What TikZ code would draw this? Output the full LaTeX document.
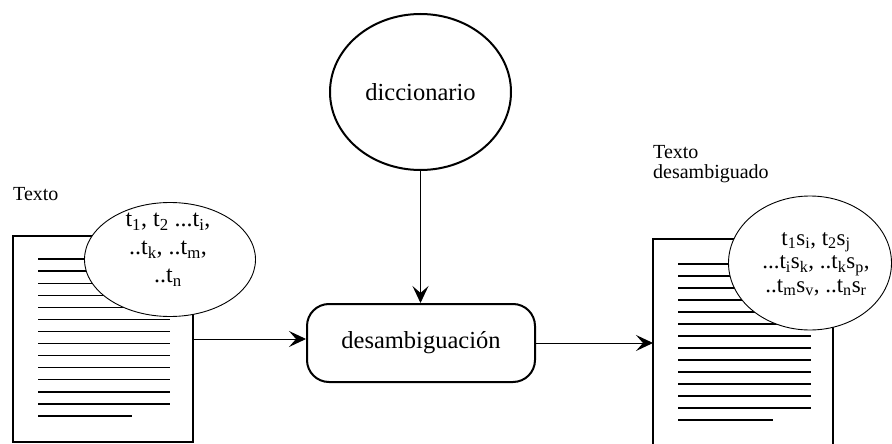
\documentclass[tikz,border=0pt]{standalone}
\usepackage{fontspec}
\setmainfont{Liberation Serif}
\usetikzlibrary{shapes.geometric,arrows.meta}

\tikzset{
  docbox/.style={draw, line width=2.4pt, rectangle, inner sep=0pt, outer sep=0pt},
  docline/.style={line width=1.3pt},
  bubble/.style={draw, ellipse, fill=white, line width=0.9pt, inner sep=0pt},
  store/.style={draw, ellipse, line width=2pt, inner sep=0pt,
    font=\fontsize{24.5}{28}\selectfont},
  process/.style={draw, rectangle, rounded corners=22pt, line width=2pt,
    inner sep=0pt, font=\fontsize{24.5}{28}\selectfont},
  caption/.style={inner sep=0pt, font=\fontsize{20}{21}\selectfont, align=left},
  flow/.style={line width=0.9pt, -{Stealth[length=17pt, width=16pt, inset=7pt]}},
}

\begin{document}
\begin{tikzpicture}[x=1pt, y=-1pt]
  \useasboundingbox (0,0) rectangle (892,444);
  \clip (0,0) rectangle (892,444);

  % input document
  \node[docbox, minimum width=180pt, minimum height=206pt, anchor=north west]
    (ldoc) at (13,236) {};
  \foreach \i in {0,...,12}
    \draw[docline] ([shift={(25,23+12.08*\i)}]ldoc.north west) -- ++(132,0);
  \draw[docline] ([shift={(25,23+12.08*13)}]ldoc.north west) -- ++(94,0);
  \node[caption, anchor=base west] (ltitle) at (13,200) {Texto};

  % output document
  \node[docbox, minimum width=180pt, minimum height=220pt, anchor=north west]
    (rdoc) at (653,239) {};
  \foreach \i in {0,...,12}
    \draw[docline] ([shift={(25,25+12*\i)}]rdoc.north west) -- ++(133,0);
  \draw[docline] ([shift={(25,25+12*13)}]rdoc.north west) -- ++(95,0);
  \node[caption, anchor=base west] (rtitle) at (653,178) {Texto\\[-1pt]desambiguado};

  % term bubbles
  \node[bubble, minimum width=171pt, minimum height=114pt] (lbub) at (170,259.5) {};
  \node[align=center, inner sep=0pt, font=\fontsize{24}{28}\selectfont]
    (lterms) at (168,250)
    {t\textsubscript{1}, t\textsubscript{2} ...t\textsubscript{i},\\
     ..t\textsubscript{k}, ..t\textsubscript{m},\\
     ..t\textsubscript{n}};

  \node[bubble, minimum width=163pt, minimum height=134pt] (rbub) at (810,263) {};
  \node[align=center, inner sep=0pt, font=\fontsize{23}{23.5}\selectfont]
    (rterms) at (816,264)
    {t\textsubscript{1}s\textsubscript{i}, t\textsubscript{2}s\textsubscript{j}\\
     ...t\textsubscript{i}s\textsubscript{k}, ..t\textsubscript{k}s\textsubscript{p},\\
     ..t\textsubscript{m}s\textsubscript{v}, ..t\textsubscript{n}s\textsubscript{r}};

  % dictionary and process
  \node[store, minimum width=181pt, minimum height=156pt] (dicc) at (420.5,92) {diccionario};
  \node[process, minimum width=228pt, minimum height=78pt] (proc) at (421,343) {desambiguación};

  % connectors
  \draw[flow] (dicc.south) -- (dicc.south |- proc.north);
  \draw[flow] (ldoc.east) -- (proc.west |- ldoc.east);
  \draw[flow] (proc.east) -- (rdoc.west |- proc.east);
\end{tikzpicture}
\end{document}
